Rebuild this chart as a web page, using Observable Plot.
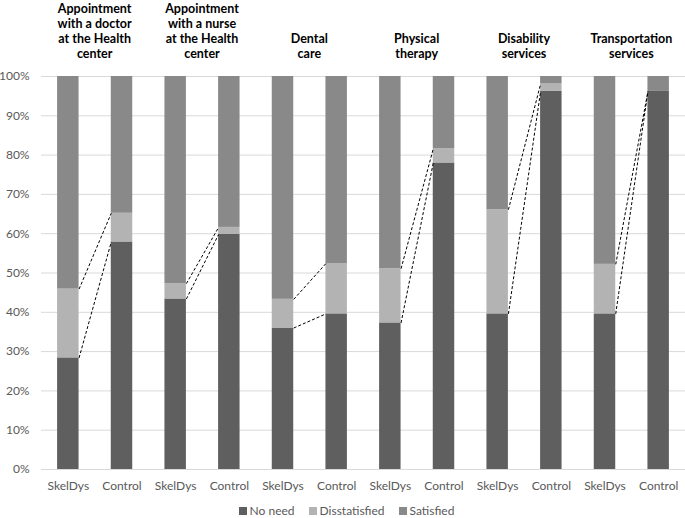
<!DOCTYPE html>
<html>
<head>
<meta charset="utf-8">
<script src="https://cdn.jsdelivr.net/npm/d3@7"></script>
<script src="https://cdn.jsdelivr.net/npm/@observablehq/plot@0.6"></script>
<style>
  html, body { margin: 0; padding: 0; background: #fff; }
  #wrap { position: relative; width: 685px; font-family: Lato, "Open Sans", sans-serif; }
  #titles { position: absolute; left: 0; top: 0; width: 685px; height: 61px; pointer-events: none; }
  .ttl { position: absolute; bottom: 0; transform: translateX(-50%); text-align: center;
         font-weight: bold; font-size: 12.5px; line-height: 15px; white-space: nowrap; color: #000; }
  #legend { display: flex; justify-content: center; gap: 14px; margin-top: 0; height: 14px;
            line-height: 14px; font-size: 12px; color: #595959; padding-left: 8px; }
  #legend span.sw { display: inline-block; width: 8px; height: 8px; margin-right: 3px; vertical-align: 0px; }
</style>
</head>
<body>
<div id="wrap"></div>
<script>
// ---- data (percent) ----
const services = [
  ["Appointment", "with a doctor", "at the Health", "center"],
  ["Appointment", "with a nurse", "at the Health", "center"],
  ["Dental", "care"],
  ["Physical", "therapy"],
  ["Disability", "services"],
  ["Transportation", "services"]
];
const groups = ["SkelDys", "Control"];
const categories = ["No need", "Disstatisfied", "Satisfied"];
const colors = ["#5f5f5f", "#b3b3b3", "#898989"];

const noNeedSkel = [28.4, 43.4, 36.0, 37.3, 39.6, 39.6];
const dissatSkel = [17.5, 3.9, 7.3, 13.8, 26.5, 12.6];
const satisSkel  = [54.1, 52.7, 56.7, 48.9, 33.9, 47.8];
const noNeedCtrl = [57.9, 59.8, 39.6, 78.0, 96.2, 96.2];
const dissatCtrl = [7.3, 1.8, 12.8, 3.6, 1.9, 0.0];
const satisCtrl  = [34.8, 38.4, 47.6, 18.4, 1.9, 3.8];

const yTicks = d3.range(0, 101, 10);

// ---- build tables ----
const bars = [];
services.forEach((s, g) => {
  const sets = [[noNeedSkel[g], dissatSkel[g], satisSkel[g]], [noNeedCtrl[g], dissatCtrl[g], satisCtrl[g]]];
  sets.forEach((vals, k) => {
    const idx = 2 * g + k;
    let acc = 0;
    vals.forEach((v, c) => {
      bars.push({idx, category: categories[c], y1: acc, y2: acc + v});
      acc += v;
    });
  });
});
const links = [];
services.forEach((s, g) => {
  links.push({g, a: noNeedSkel[g], b: noNeedCtrl[g]});
  links.push({g, a: noNeedSkel[g] + dissatSkel[g], b: noNeedCtrl[g] + dissatCtrl[g]});
});

const half = 0.2;
const chart = Plot.plot({
  width: 685,
  height: 504,
  marginTop: 76,
  marginBottom: 35,
  marginLeft: 41,
  marginRight: 0,
  style: {fontFamily: "Lato, 'Open Sans', sans-serif", fontSize: "12px", color: "#595959", background: "#fff", overflow: "visible"},
  x: {domain: [-0.5, 11.5], axis: null},
  y: {domain: [0, 100], axis: null},
  color: {domain: categories, range: colors},
  marks: [
    Plot.gridY(yTicks, {stroke: "#d9d9d9", strokeOpacity: 1, strokeWidth: 1}),
    Plot.axisY(yTicks, {tickSize: 0, tickPadding: 12, tickFormat: d => d + "%", label: null, fontSize: 12}),
    Plot.axisX(d3.range(12), {tickSize: 0, tickPadding: 12, tickFormat: i => groups[i % 2], label: null, fontSize: 12}),
    Plot.rect(bars, {x1: d => d.idx - half, x2: d => d.idx + half, y1: "y1", y2: "y2", fill: "category"}),
    Plot.link(links, {x1: d => 2 * d.g + half, x2: d => 2 * d.g + 1 - half, y1: "a", y2: "b",
      stroke: "#000", strokeWidth: 1, strokeDasharray: "3,2"})
  ]
});

const wrap = document.getElementById("wrap");
wrap.appendChild(chart);

// group titles centred on each pair, positioned through the x scale
const titles = document.createElement("div");
titles.id = "titles";
const xs = chart.scale("x");
services.forEach((lines, g) => {
  const d = document.createElement("div");
  d.className = "ttl";
  d.style.left = xs.apply(2 * g + 0.5) + "px";
  d.innerHTML = lines.join("<br>");
  titles.appendChild(d);
});
wrap.appendChild(titles);

// legend
const legend = document.createElement("div");
legend.id = "legend";
categories.forEach((c, i) => {
  const item = document.createElement("div");
  item.innerHTML = `<span class="sw" style="background:${colors[i]}"></span>${c}`;
  legend.appendChild(item);
});
wrap.appendChild(legend);
</script>
</body>
</html>
